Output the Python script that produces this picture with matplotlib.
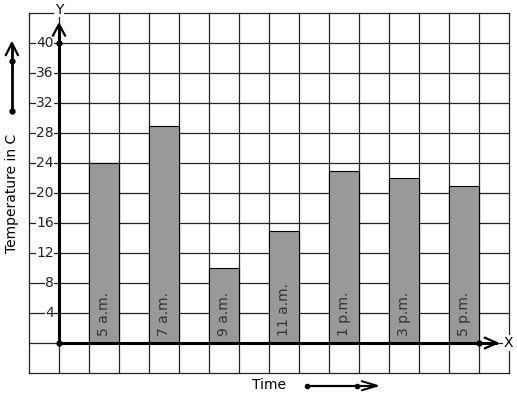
import matplotlib
matplotlib.use('Agg')
import matplotlib.pyplot as plt
import numpy as np

# Данные графика
times = ['5 a.m.', '7 a.m.', '9 a.m.', '11 a.m.', '1 p.m.', '3 p.m.', '5 p.m.']
temps = [24, 29, 10, 15, 23, 22, 21]
bar_pos = [1, 3, 5, 7, 9, 11, 13]
y_ticks = [4, 8, 12, 16, 20, 24, 28, 32, 36, 40]

fig = plt.figure(figsize=(5.17, 3.99), dpi=100)
ax = fig.add_axes([0, 0, 1, 1])
ax.set_xlim(-59 / 30, (517 - 59) / 30)
ax.set_ylim(-56 / 7.5, 343 / 7.5)
ax.axis('off')

# Сетка
for gx in range(-1, 16):
    ax.plot([gx, gx], [-4, 44], color='#222222', lw=0.9, zorder=1)
for gy in range(-4, 45, 4):
    ax.plot([-1, 15], [gy, gy], color='#222222', lw=0.9, zorder=1)

# Столбцы
ax.bar(bar_pos, temps, width=1, align='edge', color='#999999',
       edgecolor='black', linewidth=0.8, zorder=2)
for x, t in zip(bar_pos, times):
    ax.text(x + 0.5, 1, t, rotation=90, ha='center', va='bottom',
            fontsize=10, color='#333333', zorder=3)

# Оси
ax.plot([0, 0], [0, 42.3], color='black', lw=2.2, zorder=4)
ax.plot([0, 14.55], [0, 0], color='black', lw=2.2, zorder=4)
ax.plot([-0.2, 0, 0.2], [41, 42.5, 41], color='black', lw=1.6, zorder=4)
ax.plot([14.2, 14.6, 14.2], [0.7, 0, -0.7], color='black', lw=1.6, zorder=4)
ax.plot([0, 0, 14], [0, 40, 0], 'o', color='black', ms=3.5, zorder=5)

for v in y_ticks:
    ax.text(-0.17, v, str(v), ha='right', va='center', fontsize=10,
            color='#222222', zorder=3,
            bbox=dict(facecolor='white', edgecolor='none', pad=0.3))
ax.text(0, 44.4, 'Y', ha='center', va='center', fontsize=10, zorder=3,
        bbox=dict(facecolor='white', edgecolor='none', pad=0.3))
ax.text(14.98, 0, 'X', ha='center', va='center', fontsize=10, zorder=3,
        bbox=dict(facecolor='white', edgecolor='none', pad=0.5))

# Подписи осей со стрелками
ax.text(-1.57, 20, 'Temperature in C', rotation=90, ha='center',
        va='center', fontsize=10)
ax.plot([-1.57, -1.57], [30.9, 39.8], color='black', lw=2, zorder=4)
ax.plot([-1.77, -1.57, -1.37], [38.4, 40.0, 38.4], color='black', lw=1.6)
ax.plot([-1.57, -1.57], [30.9, 37.6], 'o', color='black', ms=3.5)

ax.text(7, -5.6, 'Time', ha='center', va='center', fontsize=10)
ax.plot([8.27, 10.55], [-5.7, -5.7], color='black', lw=1.6)
ax.plot([10.1, 10.6, 10.1], [-5.1, -5.7, -6.3], color='black', lw=1.4)
ax.plot([8.27, 9.93], [-5.7, -5.7], 'o', color='black', ms=3)

fig.savefig('out.png', dpi=100)
